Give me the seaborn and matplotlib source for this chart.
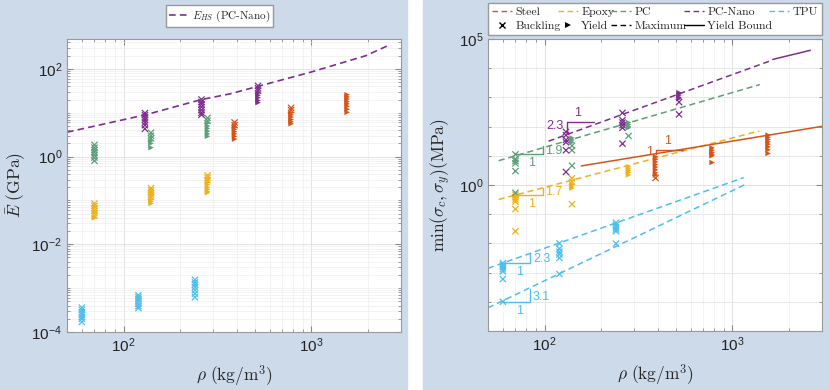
import numpy as np
import pandas as pd
import matplotlib
matplotlib.use('Agg')
import matplotlib.pyplot as plt
import seaborn as sns
from matplotlib.lines import Line2D
from matplotlib.patches import Rectangle
from matplotlib.ticker import FixedLocator, LogLocator, NullFormatter, LogFormatterSciNotation

sns.set_style('ticks')
plt.rcParams['font.family'] = ['Liberation Sans', 'DejaVu Sans']
plt.rcParams['mathtext.fontset'] = 'cm'

# --- data -------------------------------------------------------------
materials = ['Steel', 'Epoxy', 'PC', 'PC-Nano', 'TPU']
mat_colors = ['#D95319', '#EDB120', '#5C9F78', '#7E2F8E', '#4DBEEE']

# lattice densities (kg/m^3)
steel_rho = [390, 780, 1550]
epoxy_rho = [70, 140, 280]
pc_rho = [70, 140, 280]
pcnano_rho = [130, 260, 520]
tpu_rho = [60, 120, 240]

# effective modulus (GPa) per density, split by failure mode
steel_E_buck = [[6.0, 5.2], [12.9, 11.5], []]
steel_E_yield = [[4.7, 4.2, 3.7, 3.3, 2.9, 2.5], [10.0, 9.0, 8.0, 7.0, 6.2, 5.6],
                 [25.7, 23, 20.5, 18, 16, 14, 12, 10.2]]
epoxy_E_buck = [[0.085, 0.075, 0.066, 0.058, 0.051, 0.045], [0.19, 0.17, 0.15, 0.135, 0.12], [0.37, 0.33, 0.29]]
epoxy_E_yield = [[0.040], [0.105, 0.095, 0.085], [0.26, 0.23, 0.20, 0.18, 0.16, 0.15]]
pc_E_buck = [[1.85, 1.6, 1.4, 1.25, 1.1, 0.95, 0.8], [3.5, 3.0, 2.6], [7.6, 6.6]]
pc_E_yield = [[], [2.3, 2.0, 1.6], [5.8, 5.0, 4.4, 3.8, 3.3, 2.9]]
pcnano_E_buck = [[9.8, 8.8, 7.8, 6.9, 6.0, 5.2, 4.3], [20, 17.5, 15.5, 13.5, 11.5, 10, 9], [41, 36, 32]]
pcnano_E_yield = [[], [], [28, 25, 22, 19, 17]]
tpu_E_buck = [[3.6e-4, 3.2e-4, 2.8e-4, 2.5e-4, 2.2e-4, 2.0e-4, 1.7e-4],
              [6.9e-4, 6.2e-4, 5.6e-4, 5.0e-4, 4.4e-4, 3.9e-4, 3.5e-4],
              [1.55e-3, 1.35e-3, 1.2e-3, 1.05e-3, 9.0e-4, 7.5e-4, 6.2e-4]]
tpu_E_yield = [[], [], []]

# Hashin-Shtrikman bound, PC-Nano
hs_rho = [50, 130, 260, 370, 520, 1000, 1950, 2520]
hs_E = [3.6, 8.9, 20, 27, 40, 85, 200, 330]

# strength min(sigma_c, sigma_y) (MPa)
steel_sig_buck = [[1.74], [], []]
steel_sig_yield = [[9.3, 7.6, 6.2, 5.0, 4.1, 3.3, 2.6, 2.2], [18.6, 15.5, 13.0, 11.2, 10.0, 5.9],
                   [51, 43, 36, 30, 25, 20, 16, 12]]
epoxy_sig_buck = [[0.46, 0.38, 0.32, 0.27, 0.15, 0.026], [1.7, 1.3, 0.22], []]
epoxy_sig_yield = [[], [1.05, 0.9, 0.78], [4.2, 3.6, 3.1, 2.7, 2.2]]
pc_sig_buck = [[11.2, 7.8, 6.6, 5.5, 3.0, 0.54], [22, 15.5, 4.6], [48]]
pc_sig_yield = [[], [41, 35, 29], [138, 118, 100, 91]]
pcnano_sig_buck = [[66, 51, 35, 29, 15.5, 2.8], [295, 166, 138, 112, 91, 26], [690, 263]]
pcnano_sig_yield = [[], [], [1450, 1200, 1000, 910]]
tpu_sig_buck = [[2.1e-3, 1.8e-3, 1.55e-3, 1.3e-3, 1.1e-3, 6.0e-4, 1.0e-4],
                [1.0e-2, 6.6e-3, 5.2e-3, 4.2e-3, 3.2e-3, 8.9e-4],
                [5.1e-2, 4.3e-2, 3.5e-2, 3.0e-2, 2.6e-2, 9.8e-3]]
tpu_sig_yield = [[], [], []]

# maximum (dashed) and yield bound (solid) lines
max_material = ['PC-Nano', 'PC', 'Epoxy', 'TPU', 'TPU']
max_rho = [[105, 1620], [57, 1400], [57, 1390], [50, 1150], [50, 1180]]
max_sig = [[31.6, 18600], [6.8, 2750], [0.32, 71], [1.4e-3, 1.8], [6.2e-5, 1.07]]
bound_material = ['Steel', 'PC-Nano']
bound_rho = [[157, 3000], [1640, 2600]]
bound_sig = [[4.5, 102], [2.0e4, 4.1e4]]

# slope triangles
tri_material = ['PC-Nano', 'PC', 'Epoxy', 'TPU', 'TPU', 'Steel']
tri_rho = [131, 70, 70, 60, 60, 393]
tri_sig = [66, 11.2, 0.46, 2.1e-3, 1.0e-4, 11.2]
tri_slope = [2.3, 1.9, 1.7, 2.3, 3.1, 1.0]
tri_above = [True, False, False, False, False, True]

palette = dict(zip(materials, mat_colors))


def build_points(rho_lists, buck_lists, yield_lists):
    rows = []
    for mat, rhos, bk, yl in zip(materials, rho_lists, buck_lists, yield_lists):
        for r, b_vals, y_vals in zip(rhos, bk, yl):
            rows += [(mat, r, v, 'Buckling') for v in b_vals]
            rows += [(mat, r, v, 'Yield') for v in y_vals]
    return pd.DataFrame(rows, columns=['material', 'rho', 'val', 'mode'])


all_rho = [steel_rho, epoxy_rho, pc_rho, pcnano_rho, tpu_rho]
df_E = build_points(all_rho,
                    [steel_E_buck, epoxy_E_buck, pc_E_buck, pcnano_E_buck, tpu_E_buck],
                    [steel_E_yield, epoxy_E_yield, pc_E_yield, pcnano_E_yield, tpu_E_yield])
df_sig = build_points(all_rho,
                      [steel_sig_buck, epoxy_sig_buck, pc_sig_buck, pcnano_sig_buck, tpu_sig_buck],
                      [steel_sig_yield, epoxy_sig_yield, pc_sig_yield, pcnano_sig_yield, tpu_sig_yield])

line_rows = []
for i, (m, rr, ss) in enumerate(zip(max_material, max_rho, max_sig)):
    line_rows += [(i, m, 'Maximum', r, s) for r, s in zip(rr, ss)]
for j, (m, rr, ss) in enumerate(zip(bound_material, bound_rho, bound_sig)):
    line_rows += [(10 + j, m, 'Yield Bound', r, s) for r, s in zip(rr, ss)]
df_lines = pd.DataFrame(line_rows, columns=['line_id', 'material', 'kind', 'rho', 'val'])


def scatter_failures(ax, df):
    b = df[df['mode'] == 'Buckling']
    y = df[df['mode'] == 'Yield']
    sns.scatterplot(data=b, x='rho', y='val', hue='material', palette=palette, marker='x',
                    s=20, linewidth=0.9, legend=False, ax=ax, zorder=3)
    sns.scatterplot(data=y, x='rho', y='val', hue='material', palette=palette, marker='>',
                    s=16, linewidth=0, legend=False, ax=ax, zorder=3)


def style_axes(ax):
    ax.set_xscale('log')
    ax.set_yscale('log')
    ax.set_xlim(50, 3000)
    ax.xaxis.set_major_locator(FixedLocator([1e2, 1e3]))
    ax.xaxis.set_major_formatter(LogFormatterSciNotation())
    ax.xaxis.set_minor_locator(LogLocator(base=10, subs=np.arange(2, 10), numticks=20))
    ax.xaxis.set_minor_formatter(NullFormatter())
    ax.tick_params(which='both', direction='in', top=True, right=True, colors='#888888',
                   labelcolor='#222222', labelsize=11)
    ax.tick_params(which='major', length=4)
    ax.tick_params(which='minor', length=2)
    for sp in ax.spines.values():
        sp.set_color('#999999')
        sp.set_linewidth(0.8)
    ax.grid(True, which='major', color='#dddddd', lw=0.6)
    ax.grid(True, which='minor', color='#eeeeee', lw=0.5)
    ax.set_axisbelow(True)


fig = plt.figure(figsize=(8.3, 3.9), dpi=100, facecolor='white')
bg = '#cddaea'
fig.patches.append(Rectangle((0, 0), 407 / 830, 1, transform=fig.transFigure, color=bg, zorder=-10))
fig.patches.append(Rectangle((423 / 830, 0), 407 / 830, 1, transform=fig.transFigure, color=bg, zorder=-10))

# --- left panel: modulus ------------------------------------------------
ax1 = fig.add_axes([67 / 830, 58 / 390, 334 / 830, 293 / 390])
sns.lineplot(x=hs_rho, y=hs_E, color=palette['PC-Nano'], lw=1.2, estimator=None, sort=False, ax=ax1)
ax1.lines[-1].set_dashes((4, 2.5))
scatter_failures(ax1, df_E)
style_axes(ax1)
ax1.set_ylim(1e-4, 480)
ax1.yaxis.set_major_locator(FixedLocator([1e-4, 1e-2, 1e0, 1e2]))
ax1.yaxis.set_major_formatter(LogFormatterSciNotation())
ax1.yaxis.set_minor_locator(LogLocator(base=10, subs=np.arange(1, 10), numticks=40))
ax1.yaxis.set_minor_formatter(NullFormatter())
ax1.set_xlabel(r'$\rho\ (\mathrm{kg/m^3})$', fontsize=12.5, math_fontfamily='cm')
ax1.set_ylabel(r'$\bar{E}\ (\mathrm{GPa})$', fontsize=12.5, math_fontfamily='cm')
ax1.xaxis.set_label_coords(0.5, -0.108)
ax1.yaxis.set_label_coords(-0.118, 0.5)
hs_handle = [Line2D([], [], color=palette['PC-Nano'], ls=(0, (4, 2.5)), lw=1.2)]
leg1 = ax1.legend(hs_handle, [r'$E_{HS}$ (PC-Nano)'], loc='lower center', bbox_to_anchor=(0.457, 1.041),
                  prop={'family': 'cmr10', 'size': 8}, fancybox=False, edgecolor='#999999',
                  framealpha=1, handlelength=1.6, handletextpad=0.4, borderpad=0.3, borderaxespad=0)
for t in leg1.get_texts():
    t.set_math_fontfamily('cm')

# --- right panel: strength ----------------------------------------------
ax2 = fig.add_axes([488 / 830, 59 / 390, 334 / 830, 292 / 390])
sns.lineplot(data=df_lines, x='rho', y='val', hue='material', style='kind', units='line_id',
             estimator=None, sort=False, palette=palette,
             dashes={'Maximum': (4, 2.5), 'Yield Bound': ''}, lw=1.1, legend=False, ax=ax2)
scatter_failures(ax2, df_sig)

fac = 10 ** 0.145
for m, r0, s0, k, above in zip(tri_material, tri_rho, tri_sig, tri_slope, tri_above):
    c = palette[m]
    s1 = s0 * fac ** k
    lab = '1' if k == 1 else f'{k:.1f}'
    if above:
        ax2.plot([r0, r0, r0 * fac], [s0, s1, s1], color=c, lw=1.0, zorder=4)
        ax2.annotate('1', (r0 * fac ** 0.4, s1), xytext=(0, 2), textcoords='offset points',
                     ha='center', va='bottom', color=c, fontsize=9)
        ax2.annotate(lab, (r0, s0 * fac ** (k * 0.6)), xytext=(-2, 0), textcoords='offset points',
                     ha='right', va='center', color=c, fontsize=9)
    else:
        ax2.plot([r0, r0 * fac, r0 * fac], [s0, s0, s1], color=c, lw=1.0, zorder=4)
        ax2.annotate('1', (r0 * fac ** 0.6, s0), xytext=(0, -2), textcoords='offset points',
                     ha='center', va='top', color=c, fontsize=9)
        ax2.annotate(lab, (r0 * fac, s0 * fac ** (k * 0.4)), xytext=(2, 0), textcoords='offset points',
                     ha='left', va='center', color=c, fontsize=9)

style_axes(ax2)
ax2.set_ylim(1e-5, 1e5)
ax2.yaxis.set_major_locator(FixedLocator([1e0, 1e5]))
ax2.yaxis.set_major_formatter(LogFormatterSciNotation())
ax2.yaxis.set_minor_locator(LogLocator(base=10, subs=(1.0,), numticks=30))
ax2.yaxis.set_minor_formatter(NullFormatter())
ax2.grid(True, which='minor', axis='y', color='#e4e4e4', lw=0.6)
ax2.set_xlabel(r'$\rho\ (\mathrm{kg/m^3})$', fontsize=12.5, math_fontfamily='cm')
ax2.set_ylabel(r'$\min(\sigma_c,\sigma_y)(\mathrm{MPa})$', fontsize=12.5, math_fontfamily='cm')
ax2.xaxis.set_label_coords(0.5, -0.108)
ax2.yaxis.set_label_coords(-0.105, 0.5)

mat_handles = [Line2D([], [], color=c, ls=(0, (4, 2.5)), lw=1.0) for c in mat_colors]
extra_handles = [Line2D([], [], color='k', marker='x', ls='none', ms=4, mew=1),
                 Line2D([], [], color='k', marker='>', ls='none', ms=4, mew=0),
                 Line2D([], [], color='k', ls=(0, (4, 2.5)), lw=1.0),
                 Line2D([], [], color='k', ls='-', lw=1.0)]
extra_labels = ['Buckling', 'Yield', 'Maximum', 'Yield Bound']
handles, labels = [], []
for i in range(5):
    handles.append(mat_handles[i]); labels.append(materials[i])
    if i < 4:
        handles.append(extra_handles[i]); labels.append(extra_labels[i])
ax2.legend(handles, labels, ncol=5, loc='lower left', bbox_to_anchor=(0, 1.0137, 1, 0.1), mode='expand',
           prop={'family': 'cmr10', 'size': 8.5}, fancybox=False, edgecolor='#999999', framealpha=1,
           handlelength=1.7, handletextpad=0.3, columnspacing=0.4, labelspacing=0.3,
           borderpad=0.35, borderaxespad=0)

fig.savefig('out.png', dpi=100, facecolor=fig.get_facecolor())
